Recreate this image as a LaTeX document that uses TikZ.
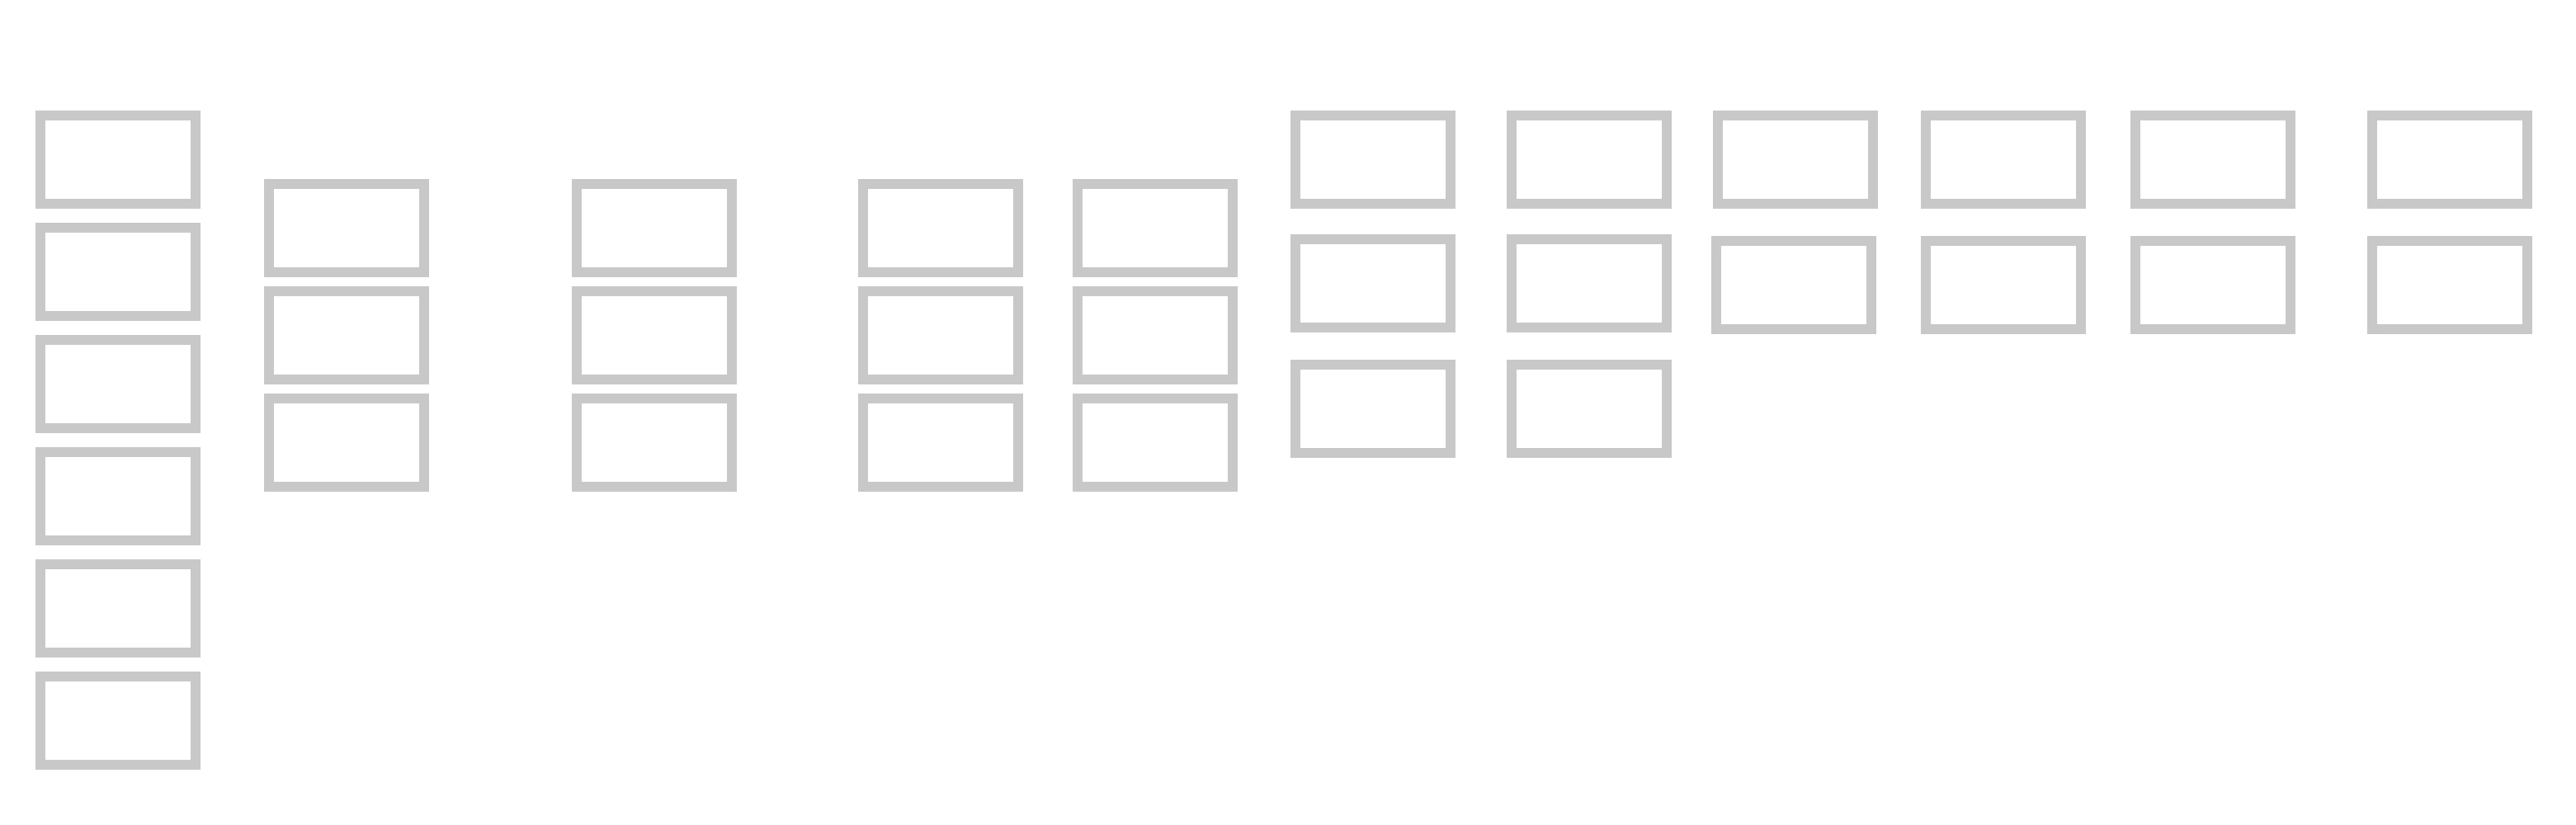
\documentclass[tikz,border=0pt]{standalone}
\usepackage{tikz}
\definecolor{boxgray}{HTML}{C8C8C8}
\tikzset{
  cell/.style={draw=boxgray, line width=0.12cm, inner sep=0pt,
    minimum width=1.88cm, minimum height=1.07cm}
}
\begin{document}
\begin{tikzpicture}
\useasboundingbox (0,0) rectangle (31.22,-10);

% first column, six cells
\node[cell] (a1) at (1.43,-1.935) {};
\node[cell] (a2) at (1.43,-3.295) {};
\node[cell] (a3) at (1.43,-4.655) {};
\node[cell] (a4) at (1.43,-6.015) {};
\node[cell] (a5) at (1.43,-7.375) {};
\node[cell] (a6) at (1.43,-8.735) {};

% columns of three, lower start
\node[cell] (b1) at (4.20,-2.765) {};
\node[cell] (b2) at (4.20,-4.065) {};
\node[cell] (b3) at (4.20,-5.365) {};

\node[cell] (c1) at (7.93,-2.765) {};
\node[cell] (c2) at (7.93,-4.065) {};
\node[cell] (c3) at (7.93,-5.365) {};

\node[cell] (d1) at (11.40,-2.765) {};
\node[cell] (d2) at (11.40,-4.065) {};
\node[cell] (d3) at (11.40,-5.365) {};

\node[cell] (e1) at (14.00,-2.765) {};
\node[cell] (e2) at (14.00,-4.065) {};
\node[cell] (e3) at (14.00,-5.365) {};

% columns of three, top start
\node[cell] (f1) at (16.64,-1.935) {};
\node[cell] (f2) at (16.64,-3.44) {};
\node[cell] (f3) at (16.64,-4.96) {};

\node[cell] (g1) at (19.26,-1.935) {};
\node[cell] (g2) at (19.26,-3.44) {};
\node[cell] (g3) at (19.26,-4.96) {};

% columns of two
\node[cell] (h1) at (21.76,-1.935) {};
\node[cell] (h2) at (21.74,-3.455) {};

\node[cell] (i1) at (24.28,-1.935) {};
\node[cell] (i2) at (24.28,-3.455) {};

\node[cell] (j1) at (26.82,-1.935) {};
\node[cell] (j2) at (26.82,-3.455) {};

\node[cell] (k1) at (29.69,-1.935) {};
\node[cell] (k2) at (29.69,-3.455) {};

\end{tikzpicture}
\end{document}
